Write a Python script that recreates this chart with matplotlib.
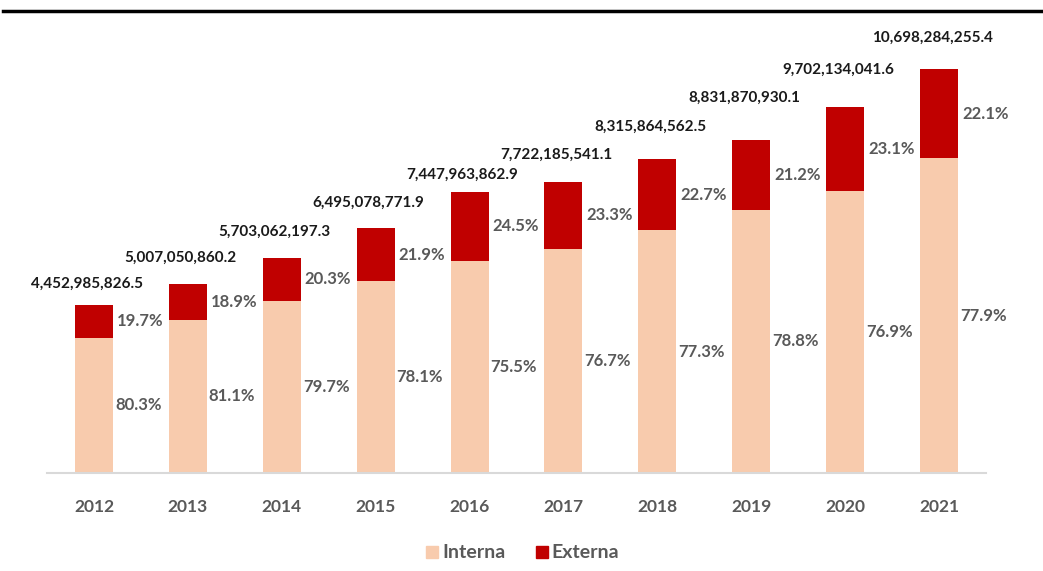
import matplotlib
matplotlib.use("Agg")
import matplotlib.pyplot as plt
from matplotlib.lines import Line2D
import numpy as np

# data
years = ["2012", "2013", "2014", "2015", "2016", "2017", "2018", "2019", "2020", "2021"]
totals = [4452985826.5, 5007050860.2, 5703062197.3, 6495078771.9, 7447963862.9,
          7722185541.1, 8315864562.5, 8831870930.1, 9702134041.6, 10698284255.4]
pct_interna = [80.3, 81.1, 79.7, 78.1, 75.5, 76.7, 77.3, 78.8, 76.9, 77.9]
pct_externa = [19.7, 18.9, 20.3, 21.9, 24.5, 23.3, 22.7, 21.2, 23.1, 22.1]

# label lift above each bar (pixels), as placed by hand in the original
total_lift_px = [21, 26, 26, 25, 17, 27, 32, 42, 37, 32]

colors = {
    "interna": "#F8CBAD",
    "externa": "#C00000",
    "text": "#595959",
    "total": "#1A1A1A",
    "axis": "#D9D9D9",
}

plt.rcParams["font.family"] = ["Lato", "DejaVu Sans"]

W, H, dpi = 1043, 571, 100
fig = plt.figure(figsize=(W / dpi, H / dpi), dpi=dpi)
fig.patch.set_facecolor("white")

# axes placed in pixel terms: x 47..986, baseline at y=472.7, top at y=20
ax = fig.add_axes([47 / W, (H - 472.7) / H, 939 / W, (472.7 - 20) / H])

x = np.arange(len(years))
totals = np.array(totals)
interna = totals * np.array(pct_interna) / 100
externa = totals * np.array(pct_externa) / 100

bar_w = 38 / 93.9
ax.bar(x, interna, width=bar_w, color=colors["interna"], label="Interna", zorder=2)
ax.bar(x, externa, width=bar_w, bottom=interna, color=colors["externa"], label="Externa", zorder=2)

ax.set_xlim(-0.5, len(years) - 0.5)
ax.set_ylim(0, 10698284255.4 * 452.7 / 403.4)

for side in ["top", "right", "left"]:
    ax.spines[side].set_visible(False)
ax.spines["bottom"].set_color(colors["axis"])
ax.spines["bottom"].set_linewidth(1.5)
ax.set_yticks([])
ax.set_xticks(x)
ax.set_xticklabels(years, fontsize=12.5, fontweight="bold", color=colors["text"])
ax.tick_params(axis="x", length=0, pad=19)

px = 72 / dpi  # points per pixel
for i in range(len(years)):
    right = x[i] + bar_w / 2
    ax.annotate(f"{pct_interna[i]:.1f}%", (right, interna[i] / 2),
                xytext=(2 * px, 0), textcoords="offset points",
                ha="left", va="center", fontsize=12, fontweight="bold",
                color=colors["text"])
    ax.annotate(f"{pct_externa[i]:.1f}%", (right, interna[i] + externa[i] / 2),
                xytext=(4 * px, 0), textcoords="offset points",
                ha="left", va="center", fontsize=12, fontweight="bold",
                color=colors["text"])
    ax.annotate(f"{totals[i]:,.1f}", (x[i], totals[i]),
                xytext=(-7 * px, total_lift_px[i] * px), textcoords="offset points",
                ha="center", va="center", fontsize=11, fontweight="bold",
                color=colors["total"])

# legend at the bottom centre
handles = [
    Line2D([], [], marker="s", linestyle="none", markersize=9,
           markerfacecolor=colors["interna"], markeredgecolor=colors["interna"]),
    Line2D([], [], marker="s", linestyle="none", markersize=9,
           markerfacecolor=colors["externa"], markeredgecolor=colors["externa"]),
]
fig.legend(handles, ["Interna", "Externa"], loc="center",
           bbox_to_anchor=(520 / W, (H - 553) / H), ncol=2, frameon=False,
           handlelength=1.2, handletextpad=-0.1, columnspacing=1.3,
           labelcolor=colors["text"], prop={"weight": "bold", "size": 14})

# thick rule across the top
fig.add_artist(Line2D([3 / W, 1.0], [(H - 11) / H] * 2, color="black",
                      linewidth=2.5, transform=fig.transFigure))

fig.savefig("out.png", dpi=dpi, facecolor="white")
